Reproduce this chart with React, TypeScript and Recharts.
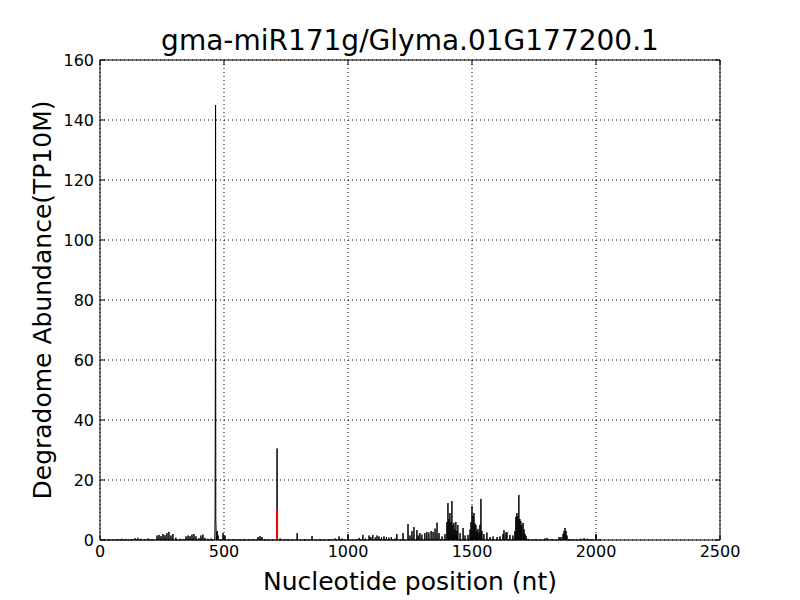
import { ComposedChart, Line, XAxis, YAxis, CartesianGrid, Label } from 'recharts';

// nucleotide positions with non-zero degradome reads, and their abundance (TP10M)
const readPositions = [
  36, 73, 89, 105, 125, 141, 153, 165, 181, 194, 206, 230, 238, 246, 254, 262, 270, 278, 286, 294,
  306, 323, 335, 347, 355, 363, 371, 379, 387, 399, 407, 415, 423, 435, 448, 464, 465, 466, 467, 468,
  470, 473, 476, 496, 504, 520, 540, 560, 580, 600, 620, 637, 645, 653, 665, 714, 726, 754, 795, 827,
  855, 887, 927, 948, 964, 976, 1000, 1045, 1060, 1070, 1085, 1092, 1100, 1110, 1117, 1125, 1135, 1145, 1155, 1165,
  1175, 1190, 1197, 1222, 1242, 1250, 1258, 1266, 1278, 1283, 1290, 1298, 1310, 1318, 1326, 1335, 1343, 1351, 1359, 1367,
  1379, 1391, 1399, 1403, 1407, 1411, 1415, 1419, 1423, 1427, 1431, 1435, 1439, 1443, 1452, 1464, 1472, 1484, 1492, 1496,
  1500, 1504, 1508, 1512, 1516, 1520, 1524, 1528, 1532, 1536, 1540, 1548, 1560, 1573, 1585, 1601, 1613, 1625, 1629, 1637,
  1641, 1653, 1665, 1673, 1677, 1681, 1685, 1689, 1693, 1697, 1701, 1706, 1710, 1714, 1718, 1726, 1754, 1794, 1802, 1822,
  1851, 1859, 1867, 1871, 1875, 1879, 1883, 1895, 1939, 1952, 1964, 1980, 2000, 2016,
];
const readAbundance = [
  0.3, 0.3, 0.4, 0.3, 0.3, 0.6, 0.7, 0.4, 0.3, 0.5, 0.3, 1.5, 1.7, 1.3, 2.0, 1.6, 2.3, 2.7, 1.5, 2.0,
  0.8, 0.4, 0.3, 1.2, 1.5, 1.3, 1.8, 2.0, 1.2, 0.6, 1.5, 1.8, 0.7, 0.4, 0.5, 8, 52, 145, 7, 4,
  2.5, 3, 1.5, 2.3, 1.5, 0.3, 0.3, 0.3, 0.3, 0.3, 0.3, 1.0, 1.3, 1.0, 0.3, 30.5, 0.5, 0.3, 2.3, 0.3,
  1.3, 0.3, 0.3, 0.5, 1.2, 0.5, 2.0, 0.7, 1.7, 0.5, 1.5, 1.0, 1.7, 0.8, 1.5, 1.2, 1.0, 1.2, 1.0, 0.8,
  1.0, 0.5, 2.0, 2.3, 5.3, 1.5, 3.0, 4.3, 3.3, 1.5, 2.3, 1.8, 2.3, 2.7, 2.5, 3.0, 2.7, 3.8, 5.8, 2.3,
  1.2, 2.0, 6.0, 12.3, 7.0, 9.0, 6.0, 13.0, 5.0, 5.7, 3.5, 6.0, 3.0, 5.0, 2.3, 4.0, 1.5, 1.7, 3.5, 6.0,
  11.3, 8.0, 9.0, 5.5, 5.0, 3.0, 3.7, 2.5, 5.0, 13.7, 3.0, 2.0, 2.5, 1.0, 1.2, 1.0, 1.2, 2.0, 3.3, 2.5,
  2.7, 1.7, 1.5, 3.0, 7.7, 9.0, 8.0, 15.0, 7.0, 6.3, 5.0, 5.7, 3.5, 2.0, 1.3, 0.4, 0.3, 0.5, 0.7, 0.3,
  1.0, 1.0, 2.0, 3.0, 4.0, 3.0, 1.5, 0.3, 0.4, 0.6, 0.4, 0.3, 2.0, 0.3,
];
const transcriptLength = 2020;

// miRNA cleavage site (red bar)
const cleavagePosition = 714;
const cleavageAbundance = 10.3;

const xTicks = [0, 500, 1000, 1500, 2000, 2500];
const yTicks = [0, 20, 40, 60, 80, 100, 120, 140, 160];

const readMap = new Map<number, number>();
readPositions.forEach((p, i) => readMap.set(p, readAbundance[i]));
const profile = Array.from({ length: transcriptLength }, (_, i) => ({
  pos: i + 1,
  value: readMap.get(i + 1) ?? 0,
}));
const cleavage = [
  { pos: cleavagePosition, site: 0 },
  { pos: cleavagePosition, site: cleavageAbundance },
];

const font = 'DejaVu Sans, sans-serif';
const noLabel = () => <g />;

export default function App() {
  return (
    <div style={{ position: 'absolute', left: 0, top: 0, width: 800, height: 600, background: '#fff', fontFamily: font }}>
      <div
        style={{
          position: 'absolute',
          left: 100,
          width: 620,
          top: 27,
          textAlign: 'center',
          fontSize: 28,
          lineHeight: '28px',
          color: '#000',
        }}
      >
        gma-miR171g/Glyma.01G177200.1
      </div>
      <ComposedChart width={800} height={600} margin={{ top: 59, right: 79, bottom: 0, left: 0 }}>
        <CartesianGrid
          xAxisId="bottom"
          yAxisId="left"
          stroke="#000"
          strokeDasharray="1 3"
          horizontalValues={yTicks}
          verticalValues={xTicks}
        />
        <XAxis
          xAxisId="bottom"
          type="number"
          dataKey="pos"
          domain={[0, 2500]}
          ticks={xTicks}
          allowDataOverflow
          height={60}
          stroke="#000"
          tickSize={-5}
          tickMargin={11}
          tick={{ fill: '#000', fontSize: 16, fontFamily: font }}
        >
          <Label
            value="Nucleotide position (nt)"
            position="insideBottom"
            offset={10}
            style={{ fontSize: 25, fontFamily: font, fill: '#000' }}
          />
        </XAxis>
        <XAxis
          xAxisId="top"
          orientation="top"
          type="number"
          dataKey="pos"
          domain={[0, 2500]}
          ticks={xTicks}
          height={1}
          stroke="#000"
          tickSize={-5}
          tick={noLabel}
        />
        <YAxis
          yAxisId="left"
          type="number"
          domain={[0, 160]}
          ticks={yTicks}
          width={100}
          stroke="#000"
          tickSize={-5}
          tickMargin={11}
          tick={{ fill: '#000', fontSize: 16, fontFamily: font }}
        >
          <Label
            value="Degradome Abundance(TP10M)"
            angle={-90}
            position="insideLeft"
            offset={42}
            style={{ fontSize: 25, fontFamily: font, fill: '#000', textAnchor: 'middle' }}
          />
        </YAxis>
        <YAxis
          yAxisId="right"
          orientation="right"
          type="number"
          domain={[0, 160]}
          ticks={yTicks}
          width={1}
          stroke="#000"
          tickSize={-5}
          tick={noLabel}
        />
        <Line
          xAxisId="bottom"
          yAxisId="left"
          data={profile}
          dataKey="value"
          type="linear"
          stroke="#000"
          strokeWidth={1}
          dot={false}
          isAnimationActive={false}
        />
        <Line
          xAxisId="top"
          yAxisId="right"
          data={cleavage}
          dataKey="site"
          type="linear"
          stroke="#ff0000"
          strokeWidth={2}
          dot={false}
          isAnimationActive={false}
        />
      </ComposedChart>
    </div>
  );
}
